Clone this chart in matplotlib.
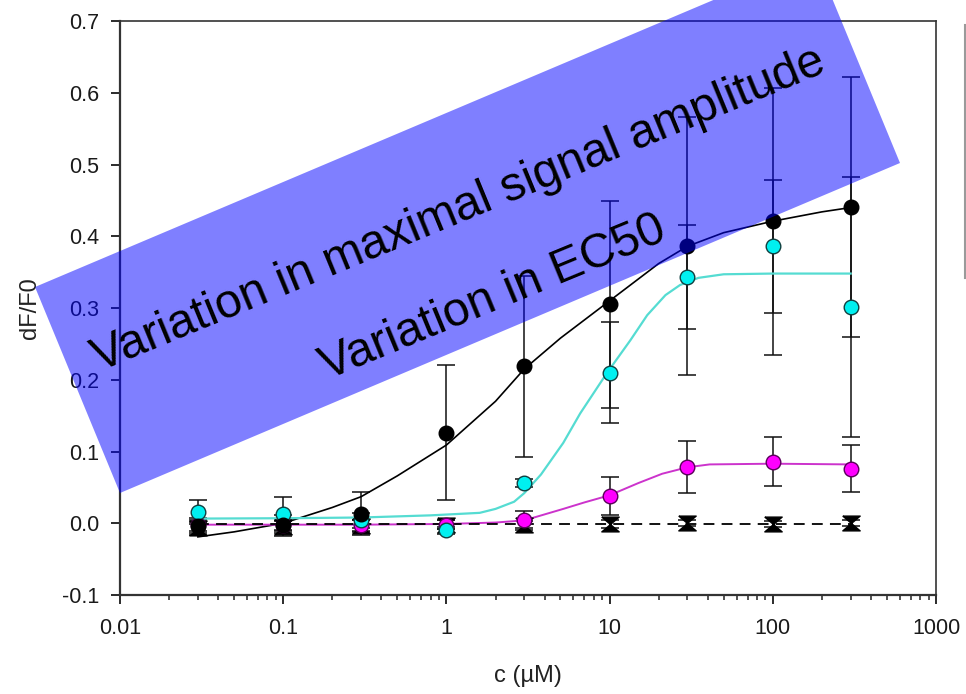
import matplotlib
matplotlib.use("Agg")
import matplotlib.pyplot as plt
from matplotlib.patches import Polygon, Rectangle
from matplotlib.ticker import FixedLocator, LogLocator, NullFormatter

plt.rcParams['font.family'] = ['Liberation Sans', 'DejaVu Sans']

# concentrations (uM)
conc = [0.03, 0.1, 0.3, 1, 3, 10, 30, 100, 300]

# measured points, dF/F0 mean and error
black_y = [-0.004, -0.003, 0.0135, 0.126, 0.219, 0.305, 0.386, 0.421, 0.441]
black_err = [0.012, 0.015, 0.030, 0.094, 0.126, 0.144, 0.180, 0.186, 0.181]
cyan_y = [0.016, 0.0135, 0.004, -0.010, 0.056, 0.210, 0.343, 0.386, 0.301]
cyan_err = [0.017, 0.023, 0.010, 0.005, 0.005, 0.070, 0.072, 0.093, 0.181]
mag_y = [-0.003, -0.003, -0.003, -0.002, 0.004, 0.038, 0.078, 0.086, 0.076]
mag_err = [0.008, 0.008, 0.008, 0.006, 0.013, 0.027, 0.036, 0.034, 0.033]
ctrl_y = [-0.006, -0.005, -0.004, -0.002, -0.002, -0.001, 0.000, -0.001, 0.000]
ctrl_err = [0.008, 0.008, 0.008, 0.006, 0.005, 0.005, 0.004, 0.004, 0.004]

# fitted curves
black_fit_x = [0.03, 0.05, 0.1, 0.2, 0.3, 0.5, 1, 2, 3, 5, 10, 20, 30, 50, 100, 200, 300]
black_fit_y = [-0.019, -0.012, 0.000, 0.022, 0.037, 0.066, 0.109, 0.170, 0.215, 0.258,
               0.310, 0.362, 0.386, 0.405, 0.421, 0.434, 0.440]
cyan_fit_x = [0.03, 0.1, 0.3, 0.8, 1.6, 2, 2.6, 3, 3.8, 5.2, 6.6, 9.6, 13.4, 17, 22, 27, 35,
              50, 100, 300]
cyan_fit_y = [0.0065, 0.007, 0.008, 0.011, 0.0145, 0.020, 0.030, 0.042, 0.068, 0.112,
              0.153, 0.209, 0.255, 0.290, 0.318, 0.332, 0.342, 0.347, 0.348, 0.348]
mag_fit_x = [0.03, 0.3, 1, 2, 3, 5.2, 7, 10, 15, 21, 30, 41, 100, 300]
mag_fit_y = [-0.002, -0.002, -0.001, 0.001, 0.004, 0.020, 0.029, 0.039, 0.056, 0.069, 0.078,
             0.082, 0.083, 0.082]
ctrl_fit_x = [0.03, 300]
ctrl_fit_y = [-0.001, -0.001]

x_ticks = [0.01, 0.1, 1, 10, 100, 1000]
x_ticklabels = ['0.01', '0.1', '1', '10', '100', '1000']
y_ticks = [-0.1, 0.0, 0.1, 0.2, 0.3, 0.4, 0.5, 0.6, 0.7]

W, H = 966, 694
fig = plt.figure(figsize=(W / 100, H / 100), dpi=100)
ax = fig.add_axes([120 / W, 1 - 595 / H, (936 - 120) / W, (595 - 21) / H])

eb = dict(fmt='none', ecolor='#111111', elinewidth=1.1, capsize=6.5, capthick=1.1, zorder=2)
ax.errorbar(conc, black_y, yerr=black_err, **eb)
ax.errorbar(conc, cyan_y, yerr=cyan_err, **eb)
ax.errorbar(conc, mag_y, yerr=mag_err, **eb)
ax.errorbar(conc, ctrl_y, yerr=ctrl_err, **eb)

ax.plot(black_fit_x, black_fit_y, color='black', lw=1.2, zorder=3)
ax.plot(cyan_fit_x, cyan_fit_y, color='#55dcd2', lw=1.6, zorder=3)
ax.plot(mag_fit_x, mag_fit_y, color='#cc33cc', lw=1.4, zorder=3)
ax.plot(ctrl_fit_x, ctrl_fit_y, color='black', lw=1.3, ls=(0, (6, 4)), zorder=3)

hourglass = [(-1, 0.85), (1, 0.85), (-1, -0.85), (1, -0.85), (-1, 0.85)]
ax.plot(conc, ctrl_y, ls='none', marker=hourglass, ms=12.5, color='black', zorder=4)
ax.plot(conc, mag_y, ls='none', marker='o', ms=10.5, mfc='#ff00ff', mec='#5a005a', mew=1.0, zorder=5)
ax.plot(conc, cyan_y, ls='none', marker='o', ms=10.5, mfc='#00f0f0', mec='#104040', mew=1.0, zorder=5)
ax.plot(conc, black_y, ls='none', marker='o', ms=10.5, mfc='black', mec='black', zorder=6)

ax.set_xscale('log')
ax.set_xlim(0.01, 1000)
ax.set_ylim(-0.1, 0.7)
ax.xaxis.set_major_locator(FixedLocator(x_ticks))
ax.set_xticklabels(x_ticklabels)
ax.xaxis.set_minor_locator(LogLocator(base=10, subs=range(2, 10)))
ax.xaxis.set_minor_formatter(NullFormatter())
ax.set_yticks(y_ticks)
ax.set_yticklabels(['%.1f' % v for v in y_ticks])

ax.tick_params(axis='both', which='major', direction='out', length=6.5, width=1.3,
               labelsize=15.5, colors='#1a1a1a')
ax.tick_params(axis='y', which='major', pad=8.5)
ax.tick_params(axis='x', which='major', pad=10)
ax.tick_params(axis='x', which='minor', direction='out', length=3.5, width=1.1, colors='#222222')
for side in ['left', 'bottom']:
    ax.spines[side].set_linewidth(1.6)
    ax.spines[side].set_color('#333333')
for side in ['top', 'right']:
    ax.spines[side].set_linewidth(1.2)
    ax.spines[side].set_color('#333333')

ax.set_xlabel('c (µM)', fontsize=17, color='#222222', labelpad=19)
ax.set_ylabel('dF/F0', fontsize=17, color='#222222', labelpad=15)

# legend box edge, cut off at the right border
fig.add_artist(Rectangle((965 / W, 1 - 278 / H), 0.2, (278 - 25) / H, transform=fig.transFigure,
                         facecolor='white', edgecolor='#9a9a9a', lw=1.5, clip_on=False))

# blue overlay band with the two notes
corners = [(35, 287), (120, 493), (900, 163), (815, -43)]
band = Polygon([(x / W, 1 - y / H) for x, y in corners], closed=True, transform=fig.transFigure,
               facecolor='#0000ff', alpha=0.5, edgecolor='none', zorder=10)
fig.add_artist(band)
fig.text(464 / W, 1 - 222 / H, 'Variation in maximal signal amplitude', fontsize=34.5,
         rotation=22.4, rotation_mode='anchor', ha='center', va='baseline', color='black', zorder=11)
fig.text(498 / W, 1 - 310 / H, 'Variation in EC50', fontsize=34.5,
         rotation=22.4, rotation_mode='anchor', ha='center', va='baseline', color='black', zorder=11)

fig.savefig('out.png', dpi=100)
